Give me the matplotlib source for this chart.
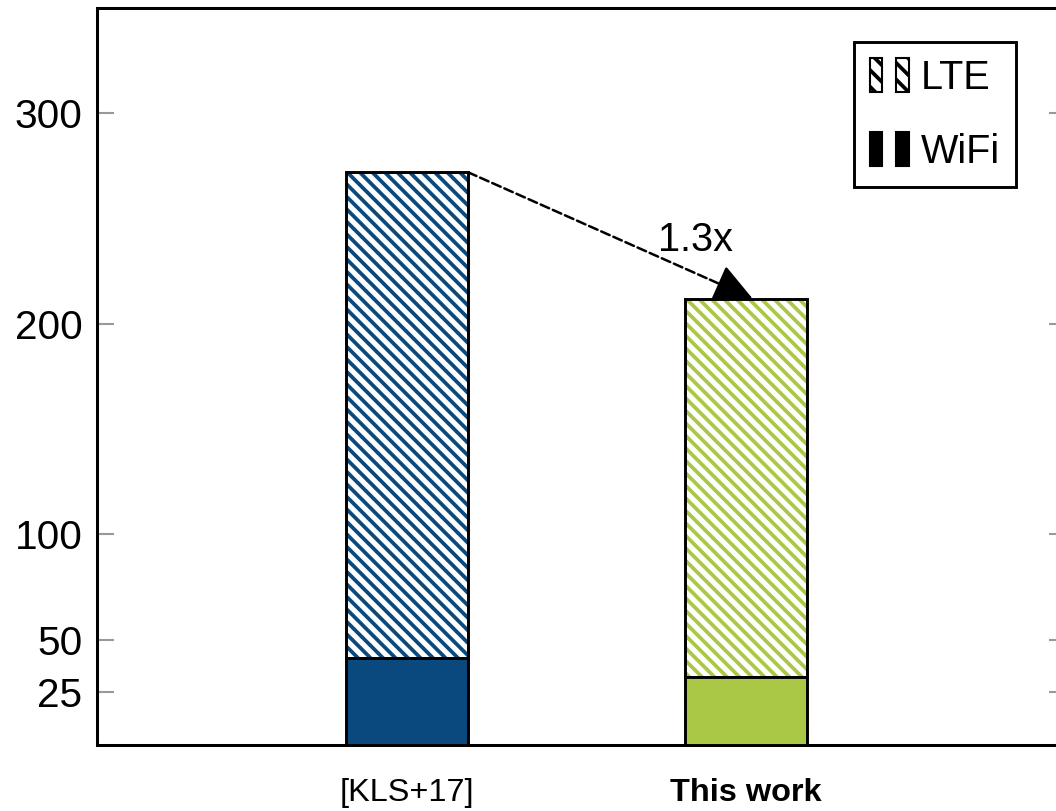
import matplotlib
matplotlib.use("Agg")
import matplotlib.pyplot as plt
from matplotlib.patches import Patch
from matplotlib.legend_handler import HandlerTuple

works = ['[KLS+17]', 'This work']
wifi = [41.5, 32.5]          # WiFi part of each bar
lte_total = [272, 212]       # LTE stacked on top (total height)
colors = ['#0a497d', '#aac846']
speedup = '1.3x'
yticks = [25, 50, 100, 200, 300]

plt.rcParams['font.family'] = ['Liberation Sans', 'DejaVu Sans']
plt.rcParams['hatch.linewidth'] = 1.8

fig = plt.figure(figsize=(1056 / 150, 811 / 150), dpi=150)
ax = fig.add_axes([97 / 1056, 66 / 811, 969 / 1056, 737 / 811])

x = [0, 1]
w = 0.36
hatch = '\\\\\\\\'
for i in range(len(works)):
    # hatched LTE bar from the ground up, WiFi drawn over its base
    ax.bar(x[i], lte_total[i], w, color='white', edgecolor=colors[i],
           hatch=hatch, linestyle='--', linewidth=1.2, zorder=2)
    ax.bar(x[i], lte_total[i] - wifi[i], w, bottom=wifi[i], fill=False,
           edgecolor='black', linewidth=1.4, zorder=3)
    ax.bar(x[i], wifi[i], w, color=colors[i], edgecolor='black',
           linewidth=1.4, zorder=3)

# improvement arrow: dashed shaft, solid head
start = (x[0] + w / 2, lte_total[0])
end = (x[1] + 0.02, lte_total[1])
near = (start[0] + 0.85 * (end[0] - start[0]), start[1] + 0.85 * (end[1] - start[1]))
ax.annotate('', xy=near, xytext=start,
            arrowprops=dict(arrowstyle='-', linestyle='--', color='black', lw=1.2,
                            shrinkA=0, shrinkB=0), zorder=4)
ax.annotate('', xy=end, xytext=near,
            arrowprops=dict(arrowstyle='-|>', color='black', lw=1.2,
                            mutation_scale=40, shrinkA=0, shrinkB=0), zorder=4)
ax.text(0.85, 240, speedup, ha='center', va='center', fontsize=19)

ax.set_xlim(-0.915, 1.945)
ax.set_ylim(0, 350)
ax.set_yticks(yticks)
ax.set_xticks(x, works)
ax.get_xticklabels()[1].set_fontweight('bold')
ax.tick_params(axis='y', direction='in', length=8, width=1, color='#999999',
               left=True, right=True, labelsize=19.5, pad=7)
ax.tick_params(axis='x', length=0, labelsize=15.6, pad=16)
for s in ax.spines.values():
    s.set_linewidth(1.45)

lte_h = (Patch(facecolor='white', edgecolor='black', hatch='\\\\\\'),
         Patch(facecolor='white', edgecolor='black', hatch='\\\\\\'))
wifi_h = (Patch(facecolor='black', edgecolor='black'),
          Patch(facecolor='black', edgecolor='black'))
leg = ax.legend([lte_h, wifi_h], ['LTE', 'WiFi'],
                handler_map={tuple: HandlerTuple(ndivide=None, pad=0.35)},
                loc='upper right', bbox_to_anchor=(1016 / 1056, 1 - 42 / 811),
                bbox_transform=fig.transFigure, borderaxespad=0,
                fontsize=19, handlelength=1.0, handleheight=0.95,
                handletextpad=0.3, labelspacing=0.9, borderpad=0.4,
                fancybox=False, framealpha=1, edgecolor='black')
leg.get_frame().set_linewidth(1.4)

fig.savefig('out.png', dpi=150)
